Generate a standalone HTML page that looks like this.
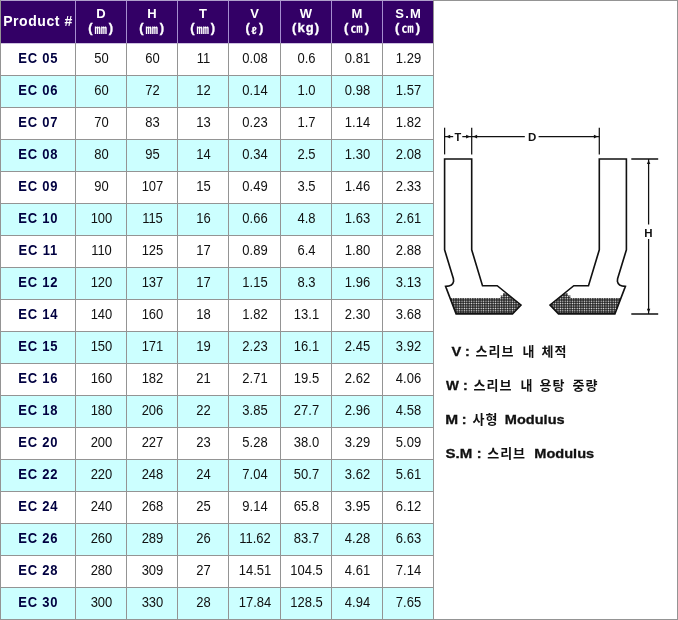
<!DOCTYPE html>
<html lang="ko"><head><meta charset="utf-8"><title>EC Sleeve Table</title>
<style>
html,body{margin:0;padding:0;background:#fff;}
body{width:678px;height:620px;position:relative;overflow:hidden;font-family:"Liberation Sans",sans-serif;}
#wrap{position:absolute;left:0;top:0;width:678px;height:620px;background:#fff;will-change:transform;}
.a{position:absolute;}
.vl{position:absolute;width:1px;background:#949494;}
.hl{position:absolute;height:1px;background:#949494;}
.hd{position:absolute;top:1px;height:42px;background:#330066;color:#fff;font-weight:bold;text-align:center;font-size:13px;}
.c{position:absolute;height:31px;line-height:30px;text-align:center;font-size:13px;color:#111;white-space:nowrap;padding-left:1px;box-sizing:border-box;transform:scaleY(1.08);transform-origin:50% 15px;}
.p{color:#000040;font-weight:bold;font-size:13px;letter-spacing:0.8px;padding-left:0.6px;transform:scaleY(1.08);transform-origin:50% 3px;line-height:28px;}
.cy{position:absolute;left:1px;width:432px;height:31px;background:#ccffff;}
</style></head>
<body>
<div id="wrap">
<div class="hd" style="left:1px;width:74px;"><div class="a" style="left:0;right:0;top:12px;font-size:14px;letter-spacing:0.55px;line-height:16px;white-space:nowrap;">Product #</div></div>
<div class="hd" style="left:76px;width:50px;"><div class="a h1" style="left:0;right:0;top:5px;line-height:15px;">D</div><svg class="a" role="img" aria-label="(mm)" style="left:0;top:-1px;" width="50" height="43" viewBox="0 0 50 43" fill="#fff" stroke="#fff" stroke-width="0.3" font-family="Liberation Sans, sans-serif" font-weight="bold" font-size="13"><text x="12.2" y="31.7">(</text><text x="32.7" y="31.7">)</text><text x="18.6" y="33.6" font-size="12.5" stroke="none" font-family="'Liberation Sans', 'Noto Sans CJK KR', sans-serif">㎜</text></svg></div>
<div class="hd" style="left:127px;width:50px;"><div class="a h1" style="left:0;right:0;top:5px;line-height:15px;">H</div><svg class="a" role="img" aria-label="(mm)" style="left:0;top:-1px;" width="50" height="43" viewBox="0 0 50 43" fill="#fff" stroke="#fff" stroke-width="0.3" font-family="Liberation Sans, sans-serif" font-weight="bold" font-size="13"><text x="12.2" y="31.7">(</text><text x="32.7" y="31.7">)</text><text x="18.6" y="33.6" font-size="12.5" stroke="none" font-family="'Liberation Sans', 'Noto Sans CJK KR', sans-serif">㎜</text></svg></div>
<div class="hd" style="left:178px;width:50px;"><div class="a h1" style="left:0;right:0;top:5px;line-height:15px;">T</div><svg class="a" role="img" aria-label="(mm)" style="left:0;top:-1px;" width="50" height="43" viewBox="0 0 50 43" fill="#fff" stroke="#fff" stroke-width="0.3" font-family="Liberation Sans, sans-serif" font-weight="bold" font-size="13"><text x="12.2" y="31.7">(</text><text x="32.7" y="31.7">)</text><text x="18.6" y="33.6" font-size="12.5" stroke="none" font-family="'Liberation Sans', 'Noto Sans CJK KR', sans-serif">㎜</text></svg></div>
<div class="hd" style="left:229px;width:51px;"><div class="a h1" style="left:0;right:0;top:5px;line-height:15px;">V</div><svg class="a" role="img" aria-label="(l)" style="left:0;top:-1px;" width="51" height="43" viewBox="0 0 51 43" fill="#fff" stroke="#fff" stroke-width="0.3" font-family="Liberation Sans, sans-serif" font-weight="bold" font-size="13"><text x="16.5" y="31.7">(</text><text x="30.1" y="31.7">)</text><text x="22.6" y="33.6" font-size="10.5">ℓ</text></svg></div>
<div class="hd" style="left:281px;width:50px;"><div class="a h1" style="left:0;right:0;top:5px;line-height:15px;">W</div><svg class="a" role="img" aria-label="(kg)" style="left:0;top:-1px;" width="50" height="43" viewBox="0 0 50 43" fill="#fff" stroke="#fff" stroke-width="0.3" font-family="Liberation Sans, sans-serif" font-weight="bold" font-size="13"><text x="10.9" y="31.7" textLength="27.3" lengthAdjust="spacing">(kg)</text></svg></div>
<div class="hd" style="left:332px;width:50px;"><div class="a h1" style="left:0;right:0;top:5px;line-height:15px;">M</div><svg class="a" role="img" aria-label="(cm)" style="left:0;top:-1px;" width="50" height="43" viewBox="0 0 50 43" fill="#fff" stroke="#fff" stroke-width="0.3" font-family="Liberation Sans, sans-serif" font-weight="bold" font-size="13"><text x="12.1" y="31.7">(</text><text x="32.7" y="31.7">)</text><text x="18.4" y="33.4" font-size="12" stroke="none" font-family="'Liberation Sans', 'Noto Sans CJK KR', sans-serif">㎝</text></svg></div>
<div class="hd" style="left:383px;width:50px;"><div class="a h1" style="left:0;right:0;top:5px;line-height:15px;letter-spacing:1.3px;padding-left:1.5px;">S.M</div><svg class="a" role="img" aria-label="(cm)" style="left:0;top:-1px;" width="50" height="43" viewBox="0 0 50 43" fill="#fff" stroke="#fff" stroke-width="0.3" font-family="Liberation Sans, sans-serif" font-weight="bold" font-size="13"><text x="12.1" y="31.7">(</text><text x="32.7" y="31.7">)</text><text x="18.4" y="33.4" font-size="12" stroke="none" font-family="'Liberation Sans', 'Noto Sans CJK KR', sans-serif">㎝</text></svg></div>
<div class="cy" style="top:76px;"></div><div class="cy" style="top:140px;"></div><div class="cy" style="top:204px;"></div><div class="cy" style="top:268px;"></div><div class="cy" style="top:332px;"></div><div class="cy" style="top:396px;"></div><div class="cy" style="top:460px;"></div><div class="cy" style="top:524px;"></div><div class="cy" style="top:588px;"></div><div class="c p" style="left:1px;top:44px;width:74px;">EC 05</div><div class="c" style="left:76px;top:44px;width:50px;">50</div><div class="c" style="left:127px;top:44px;width:50px;">60</div><div class="c" style="left:178px;top:44px;width:50px;">11</div><div class="c" style="left:229px;top:44px;width:51px;">0.08</div><div class="c" style="left:281px;top:44px;width:50px;">0.6</div><div class="c" style="left:332px;top:44px;width:50px;">0.81</div><div class="c" style="left:383px;top:44px;width:50px;">1.29</div>
<div class="c p" style="left:1px;top:76px;width:74px;">EC 06</div><div class="c" style="left:76px;top:76px;width:50px;">60</div><div class="c" style="left:127px;top:76px;width:50px;">72</div><div class="c" style="left:178px;top:76px;width:50px;">12</div><div class="c" style="left:229px;top:76px;width:51px;">0.14</div><div class="c" style="left:281px;top:76px;width:50px;">1.0</div><div class="c" style="left:332px;top:76px;width:50px;">0.98</div><div class="c" style="left:383px;top:76px;width:50px;">1.57</div>
<div class="c p" style="left:1px;top:108px;width:74px;">EC 07</div><div class="c" style="left:76px;top:108px;width:50px;">70</div><div class="c" style="left:127px;top:108px;width:50px;">83</div><div class="c" style="left:178px;top:108px;width:50px;">13</div><div class="c" style="left:229px;top:108px;width:51px;">0.23</div><div class="c" style="left:281px;top:108px;width:50px;">1.7</div><div class="c" style="left:332px;top:108px;width:50px;">1.14</div><div class="c" style="left:383px;top:108px;width:50px;">1.82</div>
<div class="c p" style="left:1px;top:140px;width:74px;">EC 08</div><div class="c" style="left:76px;top:140px;width:50px;">80</div><div class="c" style="left:127px;top:140px;width:50px;">95</div><div class="c" style="left:178px;top:140px;width:50px;">14</div><div class="c" style="left:229px;top:140px;width:51px;">0.34</div><div class="c" style="left:281px;top:140px;width:50px;">2.5</div><div class="c" style="left:332px;top:140px;width:50px;">1.30</div><div class="c" style="left:383px;top:140px;width:50px;">2.08</div>
<div class="c p" style="left:1px;top:172px;width:74px;">EC 09</div><div class="c" style="left:76px;top:172px;width:50px;">90</div><div class="c" style="left:127px;top:172px;width:50px;">107</div><div class="c" style="left:178px;top:172px;width:50px;">15</div><div class="c" style="left:229px;top:172px;width:51px;">0.49</div><div class="c" style="left:281px;top:172px;width:50px;">3.5</div><div class="c" style="left:332px;top:172px;width:50px;">1.46</div><div class="c" style="left:383px;top:172px;width:50px;">2.33</div>
<div class="c p" style="left:1px;top:204px;width:74px;">EC 10</div><div class="c" style="left:76px;top:204px;width:50px;">100</div><div class="c" style="left:127px;top:204px;width:50px;">115</div><div class="c" style="left:178px;top:204px;width:50px;">16</div><div class="c" style="left:229px;top:204px;width:51px;">0.66</div><div class="c" style="left:281px;top:204px;width:50px;">4.8</div><div class="c" style="left:332px;top:204px;width:50px;">1.63</div><div class="c" style="left:383px;top:204px;width:50px;">2.61</div>
<div class="c p" style="left:1px;top:236px;width:74px;">EC 11</div><div class="c" style="left:76px;top:236px;width:50px;">110</div><div class="c" style="left:127px;top:236px;width:50px;">125</div><div class="c" style="left:178px;top:236px;width:50px;">17</div><div class="c" style="left:229px;top:236px;width:51px;">0.89</div><div class="c" style="left:281px;top:236px;width:50px;">6.4</div><div class="c" style="left:332px;top:236px;width:50px;">1.80</div><div class="c" style="left:383px;top:236px;width:50px;">2.88</div>
<div class="c p" style="left:1px;top:268px;width:74px;">EC 12</div><div class="c" style="left:76px;top:268px;width:50px;">120</div><div class="c" style="left:127px;top:268px;width:50px;">137</div><div class="c" style="left:178px;top:268px;width:50px;">17</div><div class="c" style="left:229px;top:268px;width:51px;">1.15</div><div class="c" style="left:281px;top:268px;width:50px;">8.3</div><div class="c" style="left:332px;top:268px;width:50px;">1.96</div><div class="c" style="left:383px;top:268px;width:50px;">3.13</div>
<div class="c p" style="left:1px;top:300px;width:74px;">EC 14</div><div class="c" style="left:76px;top:300px;width:50px;">140</div><div class="c" style="left:127px;top:300px;width:50px;">160</div><div class="c" style="left:178px;top:300px;width:50px;">18</div><div class="c" style="left:229px;top:300px;width:51px;">1.82</div><div class="c" style="left:281px;top:300px;width:50px;">13.1</div><div class="c" style="left:332px;top:300px;width:50px;">2.30</div><div class="c" style="left:383px;top:300px;width:50px;">3.68</div>
<div class="c p" style="left:1px;top:332px;width:74px;">EC 15</div><div class="c" style="left:76px;top:332px;width:50px;">150</div><div class="c" style="left:127px;top:332px;width:50px;">171</div><div class="c" style="left:178px;top:332px;width:50px;">19</div><div class="c" style="left:229px;top:332px;width:51px;">2.23</div><div class="c" style="left:281px;top:332px;width:50px;">16.1</div><div class="c" style="left:332px;top:332px;width:50px;">2.45</div><div class="c" style="left:383px;top:332px;width:50px;">3.92</div>
<div class="c p" style="left:1px;top:364px;width:74px;">EC 16</div><div class="c" style="left:76px;top:364px;width:50px;">160</div><div class="c" style="left:127px;top:364px;width:50px;">182</div><div class="c" style="left:178px;top:364px;width:50px;">21</div><div class="c" style="left:229px;top:364px;width:51px;">2.71</div><div class="c" style="left:281px;top:364px;width:50px;">19.5</div><div class="c" style="left:332px;top:364px;width:50px;">2.62</div><div class="c" style="left:383px;top:364px;width:50px;">4.06</div>
<div class="c p" style="left:1px;top:396px;width:74px;">EC 18</div><div class="c" style="left:76px;top:396px;width:50px;">180</div><div class="c" style="left:127px;top:396px;width:50px;">206</div><div class="c" style="left:178px;top:396px;width:50px;">22</div><div class="c" style="left:229px;top:396px;width:51px;">3.85</div><div class="c" style="left:281px;top:396px;width:50px;">27.7</div><div class="c" style="left:332px;top:396px;width:50px;">2.96</div><div class="c" style="left:383px;top:396px;width:50px;">4.58</div>
<div class="c p" style="left:1px;top:428px;width:74px;">EC 20</div><div class="c" style="left:76px;top:428px;width:50px;">200</div><div class="c" style="left:127px;top:428px;width:50px;">227</div><div class="c" style="left:178px;top:428px;width:50px;">23</div><div class="c" style="left:229px;top:428px;width:51px;">5.28</div><div class="c" style="left:281px;top:428px;width:50px;">38.0</div><div class="c" style="left:332px;top:428px;width:50px;">3.29</div><div class="c" style="left:383px;top:428px;width:50px;">5.09</div>
<div class="c p" style="left:1px;top:460px;width:74px;">EC 22</div><div class="c" style="left:76px;top:460px;width:50px;">220</div><div class="c" style="left:127px;top:460px;width:50px;">248</div><div class="c" style="left:178px;top:460px;width:50px;">24</div><div class="c" style="left:229px;top:460px;width:51px;">7.04</div><div class="c" style="left:281px;top:460px;width:50px;">50.7</div><div class="c" style="left:332px;top:460px;width:50px;">3.62</div><div class="c" style="left:383px;top:460px;width:50px;">5.61</div>
<div class="c p" style="left:1px;top:492px;width:74px;">EC 24</div><div class="c" style="left:76px;top:492px;width:50px;">240</div><div class="c" style="left:127px;top:492px;width:50px;">268</div><div class="c" style="left:178px;top:492px;width:50px;">25</div><div class="c" style="left:229px;top:492px;width:51px;">9.14</div><div class="c" style="left:281px;top:492px;width:50px;">65.8</div><div class="c" style="left:332px;top:492px;width:50px;">3.95</div><div class="c" style="left:383px;top:492px;width:50px;">6.12</div>
<div class="c p" style="left:1px;top:524px;width:74px;">EC 26</div><div class="c" style="left:76px;top:524px;width:50px;">260</div><div class="c" style="left:127px;top:524px;width:50px;">289</div><div class="c" style="left:178px;top:524px;width:50px;">26</div><div class="c" style="left:229px;top:524px;width:51px;">11.62</div><div class="c" style="left:281px;top:524px;width:50px;">83.7</div><div class="c" style="left:332px;top:524px;width:50px;">4.28</div><div class="c" style="left:383px;top:524px;width:50px;">6.63</div>
<div class="c p" style="left:1px;top:556px;width:74px;">EC 28</div><div class="c" style="left:76px;top:556px;width:50px;">280</div><div class="c" style="left:127px;top:556px;width:50px;">309</div><div class="c" style="left:178px;top:556px;width:50px;">27</div><div class="c" style="left:229px;top:556px;width:51px;">14.51</div><div class="c" style="left:281px;top:556px;width:50px;">104.5</div><div class="c" style="left:332px;top:556px;width:50px;">4.61</div><div class="c" style="left:383px;top:556px;width:50px;">7.14</div>
<div class="c p" style="left:1px;top:588px;width:74px;">EC 30</div><div class="c" style="left:76px;top:588px;width:50px;">300</div><div class="c" style="left:127px;top:588px;width:50px;">330</div><div class="c" style="left:178px;top:588px;width:50px;">28</div><div class="c" style="left:229px;top:588px;width:51px;">17.84</div><div class="c" style="left:281px;top:588px;width:50px;">128.5</div><div class="c" style="left:332px;top:588px;width:50px;">4.94</div><div class="c" style="left:383px;top:588px;width:50px;">7.65</div>
<div class="hl" style="left:0;top:43px;width:434px;"></div><div class="hl" style="left:0;top:75px;width:434px;"></div><div class="hl" style="left:0;top:107px;width:434px;"></div><div class="hl" style="left:0;top:139px;width:434px;"></div><div class="hl" style="left:0;top:171px;width:434px;"></div><div class="hl" style="left:0;top:203px;width:434px;"></div><div class="hl" style="left:0;top:235px;width:434px;"></div><div class="hl" style="left:0;top:267px;width:434px;"></div><div class="hl" style="left:0;top:299px;width:434px;"></div><div class="hl" style="left:0;top:331px;width:434px;"></div><div class="hl" style="left:0;top:363px;width:434px;"></div><div class="hl" style="left:0;top:395px;width:434px;"></div><div class="hl" style="left:0;top:427px;width:434px;"></div><div class="hl" style="left:0;top:459px;width:434px;"></div><div class="hl" style="left:0;top:491px;width:434px;"></div><div class="hl" style="left:0;top:523px;width:434px;"></div><div class="hl" style="left:0;top:555px;width:434px;"></div><div class="hl" style="left:0;top:587px;width:434px;"></div><div class="hl" style="left:1px;top:43px;width:432px;background:#cdc2df;"></div>
<div class="vl" style="left:75px;top:0;height:620px;"></div><div class="vl" style="left:75px;top:1px;height:42px;background:#a68ecf;"></div><div class="vl" style="left:126px;top:0;height:620px;"></div><div class="vl" style="left:126px;top:1px;height:42px;background:#a68ecf;"></div><div class="vl" style="left:177px;top:0;height:620px;"></div><div class="vl" style="left:177px;top:1px;height:42px;background:#a68ecf;"></div><div class="vl" style="left:228px;top:0;height:620px;"></div><div class="vl" style="left:228px;top:1px;height:42px;background:#a68ecf;"></div><div class="vl" style="left:280px;top:0;height:620px;"></div><div class="vl" style="left:280px;top:1px;height:42px;background:#a68ecf;"></div><div class="vl" style="left:331px;top:0;height:620px;"></div><div class="vl" style="left:331px;top:1px;height:42px;background:#a68ecf;"></div><div class="vl" style="left:382px;top:0;height:620px;"></div><div class="vl" style="left:382px;top:1px;height:42px;background:#a68ecf;"></div><div class="vl" style="left:433px;top:0;height:620px;"></div>
<div class="hl" style="left:0;top:0;width:678px;"></div><div class="hl" style="left:1px;top:0;width:432px;background:#b0a0cc;"></div><div class="hl" style="left:0;top:619px;width:678px;"></div><div class="vl" style="left:0;top:0;height:620px;"></div><div class="vl" style="left:677px;top:0;height:620px;"></div>
<svg class="a" style="left:434px;top:1px;" width="243" height="618" viewBox="434 1 243 618">
<title>Sleeve dimension diagram: T, D, H. V : 스리브 내 체적, W : 스리브 내 용탕 중량, M : 사형 Modulus, S.M : 스리브 Modulus</title>
<defs><pattern id="ht" x="0" y="0" width="2.4" height="2.4" patternUnits="userSpaceOnUse"><rect width="2.4" height="2.4" fill="#111"/><rect x="0.55" y="0.55" width="1.3" height="1.3" fill="#fff"/></pattern></defs>
<path d="M450.03 298 L500.5 298 L500.5 295.4 L503 295.4 L503 293.2 L506.45 293.2 L521 305 L512.5 313.9 L456.1 313.9 Z" fill="url(#ht)"/>
<path d="M444.6 159 L471.7 159 L471.7 249.8 L482.5 285.7 L497.2 285.7 L521 305 L512.5 313.9 L456.1 313.9 L445.6 286.4 Q452.8 286.2 453.6 281.3 L453.4 278.7 L444.6 249.8 Z" fill="none" stroke="#111" stroke-width="1.6" stroke-linejoin="miter"/>
<path d="M620.97 298 L570.5 298 L570.5 295.4 L568 295.4 L568 293.2 L564.55 293.2 L550 305 L558.5 313.9 L614.9 313.9 Z" fill="url(#ht)"/>
<path d="M626.4 159 L599.3 159 L599.3 249.8 L588.5 285.7 L573.8 285.7 L550 305 L558.5 313.9 L614.9 313.9 L625.4 286.4 Q618.2 286.2 617.4 281.3 L617.6 278.7 L626.4 249.8 Z" fill="none" stroke="#111" stroke-width="1.6" stroke-linejoin="miter"/>
<g stroke="#111" stroke-width="1.25" fill="none"><path d="M444.6 127.7V154.4"/><path d="M471.7 127.7V154.4"/><path d="M599.3 127.7V154.4"/><path d="M444.6 136.6H453.2M462.3 136.6H524.8M538.6 136.6H599.3"/><path d="M648.6 159.0V224.5M648.6 239V313.9"/><path stroke-width="1.5" d="M631.3 158.9H658.2M631.3 313.9H658.2"/></g>
<g fill="#111"><path d="M446.2 136.6L450.2 134.8L450.2 138.4Z"/><path d="M470.1 136.6L466.1 138.4L466.1 134.8Z"/><path d="M473.1 136.6L477.1 134.8L477.1 138.4Z"/><path d="M597.9 136.6L593.9 138.4L593.9 134.8Z"/><path d="M648.6 159.9L650.3 164.1L646.9 164.1Z"/><path d="M648.6 313L646.9 308.8L650.3 308.8Z"/></g>
<g font-family="Liberation Sans, sans-serif" font-weight="bold" fill="#111" text-anchor="middle"><text x="457.8" y="140.7" font-size="11">T</text><text x="532.1" y="140.7" font-size="11.5">D</text><text x="648.4" y="236.7" font-size="11.5">H</text></g>
<g font-family="Liberation Sans, sans-serif" font-weight="bold" font-size="13" fill="#111">
<text transform="translate(451.5,356) scale(1.13,1)" stroke="#111" stroke-width="0.3">V</text><text transform="translate(464.9,355.5) scale(1.1,1)" stroke="#111" stroke-width="0.3">:</text><text transform="translate(446.1,390) scale(1.05,1)" stroke="#111" stroke-width="0.3">W</text><text transform="translate(462.9,389.5) scale(1.1,1)" stroke="#111" stroke-width="0.3">:</text><text transform="translate(445.2,424) scale(1.19,1)" stroke="#111" stroke-width="0.3">M</text><text transform="translate(461.7,423.5) scale(1.1,1)" stroke="#111" stroke-width="0.3">:</text><text transform="translate(504.8,424) scale(1.12,1)" stroke="#111" stroke-width="0.3">Modulus</text><text transform="translate(445.6,458) scale(1.157,1)" stroke="#111" stroke-width="0.3">S.M</text><text transform="translate(476.7,457.5) scale(1.1,1)" stroke="#111" stroke-width="0.3">:</text><text transform="translate(534.3,458) scale(1.12,1)" stroke="#111" stroke-width="0.3">Modulus</text>
<g font-family="'Liberation Sans', 'Noto Sans CJK KR', sans-serif" font-weight="bold" font-size="13" fill="#111" letter-spacing="1">
<text x="475.5" y="355.5">스리브</text><text x="522.5" y="355.5">내</text><text x="541.5" y="355.5">체적</text>
<text x="473.5" y="389.5">스리브</text><text x="520.5" y="389.5">내</text><text x="539.5" y="389.5">용탕</text><text x="572.5" y="389.5">중량</text>
<text x="472.5" y="423.5">사형</text>
<text x="487.2" y="457.5">스리브</text>
</g>
</g>
</svg>
</div>
</body></html>
